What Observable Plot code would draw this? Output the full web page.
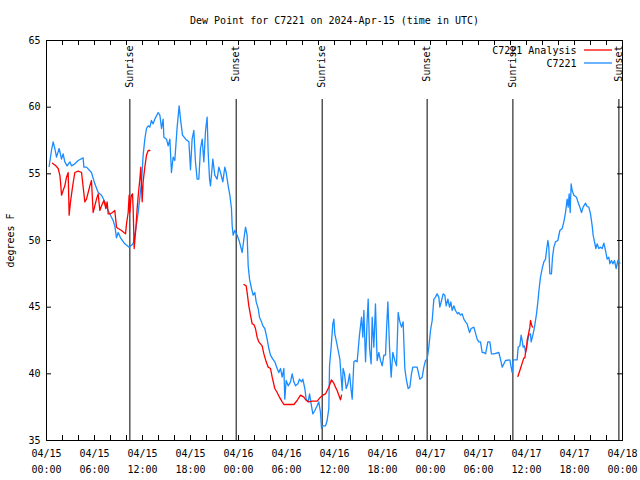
<!DOCTYPE html>
<html>
<head>
<meta charset="utf-8">
<script src="https://cdn.jsdelivr.net/npm/d3@7"></script>
<script src="https://cdn.jsdelivr.net/npm/@observablehq/plot@0.6"></script>
<style>
  html, body { margin: 0; padding: 0; background: white; }
  #chart { width: 640px; height: 480px; }
</style>
</head>
<body>
<div id="chart"></div>
<script>
// Hours after 2024-04-15 00:00 UTC
const titleText = "Dew Point for C7221 on 2024-Apr-15 (time in UTC)";
const yLabel = "degrees F";
const seriesNames = ["C7221 Analysis", "C7221"];
const seriesColors = ["#ff0000", "#1a8cff"];

const obsHours = [
0.33,0.62,0.83,1.04,1.25,1.58,1.88,2.08,2.29,2.58,2.92,3.12,3.54,3.96,4.58,4.67,5.0,5.62,6.04,6.46,6.88,7.29,7.5,7.71,8.12,8.33,8.54,8.75,8.96,9.25,9.79,10.33,10.83,11.17,11.46,11.88,12.08,12.29,12.5,12.71,12.92,13.12,13.33,13.54,13.96,14.17,14.38,14.58,14.67,15.0,15.21,15.42,15.62,15.83,16.04,16.33,16.58,16.79,17.0,17.4,17.8,18.0,18.2,
18.42,18.62,18.83,19.04,19.25,19.46,19.67,19.88,20.08,20.21,20.38,20.5,20.79,21.04,21.33,21.54,21.75,22.04,22.29,22.46,22.71,22.92,23.12,23.21,23.33,23.54,23.83,24.12,24.46,24.67,24.88,25.08,25.21,25.38,25.62,25.83,26.04,26.21,26.46,26.62,26.88,27.04,27.29,27.58,27.79,28.0,28.29,28.54,28.83,29.04,29.25,29.46,29.67,29.79,29.96,30.21,30.5,30.71,30.92,31.12,31.42,31.62,31.88,32.04,32.29,32.46,32.71,32.88,33.12,33.29,33.54,33.83,34.04,34.25,34.38,34.54,34.88,35.08,35.29,
35.38,35.58,35.79,35.92,36.04,36.25,36.46,36.67,36.83,36.96,37.08,37.25,37.46,37.67,37.88,38.04,38.21,38.42,38.62,38.83,39.12,39.38,39.54,39.67,39.88,40.08,40.21,40.38,40.58,40.71,40.92,41.12,41.33,41.54,41.75,41.96,42.17,42.38,42.5,42.67,42.88,43.08,43.29,43.54,43.75,43.96,44.17,44.38,44.58,44.79,45.0,45.21,45.42,45.62,45.79,46.33,46.67,46.96,47.17,47.38,47.58,47.79,48.0,48.21,48.42,48.62,48.83,49.04,49.17,49.38,49.58,49.79,49.96,50.17,50.38,50.54,50.71,50.92,51.12,51.38,51.54,51.75,51.96,52.17,52.38,52.58,52.88,53.08,53.42,
53.83,54.04,54.25,54.46,54.67,54.88,55.17,55.42,55.62,55.92,56.54,56.75,56.96,57.17,57.38,57.92,58.08,58.21,58.33,58.83,58.96,59.17,59.33,59.46,59.58,59.75,59.88,60.08,60.29,60.5,60.58,60.83,61.0,61.25,61.42,61.58,61.75,61.96,62.17,62.38,62.5,62.67,62.79,62.92,63.12,63.25,63.42,63.62,63.92,64.17,64.46,64.67,64.88,65.08,65.21,65.33,65.46,65.58,65.71,65.92,66.25,66.42,66.67,66.88,67.08,67.38,67.58,67.79,68.0,68.21,68.33,68.5,68.67,68.83,69.04,69.25,69.46,69.67,69.88,70.08,70.29,70.42,70.62,70.79,71.0,71.21,71.42,71.67
];
const obsValues = [
55.55,56.75,57.4,56.9,56.25,56.9,56.1,56.5,55.9,55.6,55.9,55.6,55.75,56.0,56.2,55.5,55.5,55.1,54.25,53.6,53.4,52.9,52.5,52.25,51.75,51.5,51.1,50.2,50.6,50.2,49.75,49.5,49.75,50.9,52.1,54.4,56.4,57.6,58.4,58.6,58.5,59.0,58.75,59.1,59.6,59.4,58.4,59.1,57.75,57.6,57.1,57.6,55.1,56.25,56.0,58.5,60.1,58.9,57.9,57.6,57.4,55.3,57.6,
58.25,55.9,54.6,54.6,56.9,57.6,55.9,58.25,59.25,56.6,54.6,54.1,56.1,54.9,54.6,55.5,55.1,54.4,55.5,55.1,54.1,53.4,52.4,51.1,50.4,50.75,50.4,49.9,49.1,50.1,51.0,50.4,48.1,47.1,46.4,45.9,46.1,45.4,44.9,44.25,43.9,43.6,43.4,42.6,41.9,41.4,41.1,40.9,40.4,40.1,40.4,39.75,40.4,38.1,39.5,39.1,39.4,40.0,39.4,39.1,39.25,39.6,39.4,39.6,38.9,38.1,37.9,38.5,37.6,37.0,37.25,37.6,37.9,37.1,35.9,36.1,36.1,36.5,37.4,
40.6,42.0,43.75,44.1,43.0,42.4,41.75,41.1,39.75,38.75,40.4,40.0,38.9,39.25,40.0,39.0,38.1,40.9,41.0,40.9,42.9,44.25,42.75,44.75,40.9,44.0,45.6,41.9,40.75,44.25,42.0,45.25,41.0,41.6,41.0,40.6,41.4,41.4,43.25,45.4,42.0,39.75,41.6,41.0,40.6,44.6,43.9,43.5,43.9,40.4,39.5,38.9,39.0,40.0,40.5,40.5,39.6,39.75,40.5,41.0,41.1,42.0,43.25,44.0,45.6,45.75,46.0,45.75,45.0,45.5,46.0,45.9,45.1,45.6,45.0,45.4,44.75,45.1,44.75,44.5,44.6,44.4,44.5,44.1,43.9,43.75,43.1,43.4,43.5,
42.6,42.4,42.4,41.6,41.6,41.5,42.4,42.4,41.5,41.5,41.6,41.1,40.5,40.75,41.0,41.05,40.5,40.1,41.05,41.05,42.0,42.1,42.9,42.5,42.0,42.1,41.6,42.25,42.9,43.0,42.4,43.0,43.5,44.5,45.4,46.4,47.25,47.9,48.4,48.6,49.25,50.0,49.5,47.5,47.5,48.75,49.5,49.9,50.0,50.75,50.9,51.4,52.1,53.1,52.5,53.5,52.1,54.25,53.75,53.4,53.25,52.9,52.5,52.1,52.5,52.8,52.55,52.5,52.0,51.1,50.4,49.9,49.4,49.75,49.4,49.5,49.4,49.8,49.25,48.6,48.75,48.25,48.5,48.25,48.5,47.9,48.5,48.3
];

// Analysis series; null marks a gap between segments
const anaHours = [
0.75,1.17,1.46,1.67,1.75,1.88,2.08,2.29,2.5,2.71,2.83,3.0,3.25,3.54,3.96,4.38,4.79,5.0,5.21,5.42,5.62,5.83,6.04,6.25,6.46,6.67,6.88,7.17,7.42,7.58,7.71,8.0,8.25,8.54,8.75,8.96,9.38,9.67,9.88,10.0,10.21,10.33,10.42,10.54,10.62,10.75,10.83,10.96,11.17,11.33,11.5,11.67,11.79,11.96,12.08,12.29,12.5,12.71,12.92,
18.0,
24.67,24.96,25.08,25.29,25.5,25.71,25.92,26.12,26.33,26.54,26.75,26.96,27.17,27.46,27.71,28.0,28.21,28.54,28.83,29.12,29.46,29.67,30.92,31.33,31.75,32.17,32.46,32.79,33.21,33.83,34.25,34.54,34.88,35.29,35.62,35.92,36.12,36.33,36.54,36.75,36.88,
48.0,
58.92,59.17,59.46,59.67,59.79,59.88,60.0,60.08,60.29,60.42,60.5,60.67,60.79
];
const anaValues = [
55.8,55.6,55.4,54.9,54.4,53.4,53.75,54.1,54.75,55.1,51.9,52.9,54.0,55.1,55.2,55.1,52.9,53.1,53.6,54.1,54.5,52.1,52.6,53.1,53.5,52.25,52.6,53.0,52.4,52.9,52.0,52.0,52.1,52.25,51.0,50.9,50.75,50.6,50.5,51.25,52.1,53.4,52.1,53.1,53.4,53.5,52.4,49.4,50.9,52.4,53.6,54.6,55.5,52.9,54.4,55.5,56.4,56.75,56.75,
null,
46.7,46.6,46.1,45.1,44.4,43.75,43.7,43.4,42.75,42.4,42.25,42.1,41.5,40.9,40.5,40.4,39.75,38.9,38.6,38.25,37.9,37.7,37.7,38.0,38.4,38.25,38.0,37.9,37.95,37.95,38.25,38.4,38.5,39.0,39.55,39.3,39.0,38.75,38.4,38.05,38.4,
null,
39.8,40.25,40.8,41.2,41.2,41.6,41.9,42.5,43.1,43.5,44.0,43.6,43.5
];

const sunHours = [10.42, 23.71, 34.46, 47.58, 58.3, 71.55];
const sunLabels = ["Sunrise", "Sunset", "Sunrise", "Sunset", "Sunrise", "Sunset"];

const xTickHours = [0, 6, 12, 18, 24, 30, 36, 42, 48, 54, 60, 66, 72];
const xTickLabels = ["04/15\n00:00","04/15\n06:00","04/15\n12:00","04/15\n18:00","04/16\n00:00","04/16\n06:00","04/16\n12:00","04/16\n18:00","04/17\n00:00","04/17\n06:00","04/17\n12:00","04/17\n18:00","04/18\n00:00"];
const xMinorTickHours = d3.range(0, 73, 2);
const yTicks = [35, 40, 45, 50, 55, 60, 65];

const t0 = Date.UTC(2024, 3, 15, 0, 0);
const toDate = h => new Date(t0 + h * 3600e3);

const obs = obsHours.map((h, i) => ({time: toDate(h), value: obsValues[i]}));
const ana = anaHours.map((h, i) => ({time: toDate(h), value: anaValues[i]}));
const sun = sunHours.map((h, i) => ({time: toDate(h), label: sunLabels[i]}));
const xTicks = xTickHours.map(toDate);
const xMinor = xMinorTickHours.map(toDate);

const W = 640, H = 480, ML = 46, MR = 18, MT = 40, MB = 40;
const fw = W - ML - MR, fh = H - MT - MB;

const chart = Plot.plot({
  width: W, height: H,
  marginLeft: ML, marginRight: MR, marginTop: MT, marginBottom: MB,
  style: {fontFamily: "'DejaVu Sans Mono', monospace", fontSize: "10px", background: "white", color: "black", overflow: "visible"},
  x: {type: "utc", domain: [toDate(0), toDate(72)]},
  y: {domain: [35, 65]},
  marks: [
    Plot.ruleX(sun, {x: "time", stroke: "black", strokeWidth: 1, insetTop: 59}),
    Plot.text(sun, {x: "time", text: "label", frameAnchor: "top", rotate: -90, textAnchor: "end", lineAnchor: "middle", dy: 5, fill: "black"}),
    Plot.line(obs, {x: "time", y: "value", stroke: seriesColors[1], strokeWidth: 1.3}),
    Plot.line(ana, {x: "time", y: "value", stroke: seriesColors[0], strokeWidth: 1.3}),
    Plot.frame({stroke: "black", strokeWidth: 1}),
    Plot.tickX(xMinor, {x: d => d, insetTop: fh - 5, stroke: "black"}),
    Plot.tickX(xMinor, {x: d => d, insetBottom: fh - 5, stroke: "black"}),
    Plot.tickY(yTicks, {y: d => d, insetRight: fw - 5, stroke: "black"}),
    Plot.tickY(yTicks, {y: d => d, insetLeft: fw - 5, stroke: "black"}),
    Plot.axisX(xTicks, {tickSize: 0, tickPadding: 5, tickFormat: (d, i) => xTickLabels[i], lineHeight: 1.6, label: null}),
    Plot.axisY(yTicks, {tickSize: 0, tickPadding: 6, label: yLabel, labelAnchor: "center", labelArrow: "none", labelOffset: 40}),
    Plot.text([titleText], {text: d => d, frameAnchor: "top", lineAnchor: "middle", dy: -20, fill: "black"}),
    Plot.text([seriesNames[0]], {text: d => d, frameAnchor: "top-right", textAnchor: "end", lineAnchor: "middle", dx: -46, dy: 10, fill: "black"}),
    Plot.text([seriesNames[1]], {text: d => d, frameAnchor: "top-right", textAnchor: "end", lineAnchor: "middle", dx: -46, dy: 23, fill: "black"})
  ]
});

// legend swatches
const svg = d3.select(chart);
[10, 23].forEach((dy, i) => {
  svg.append("line")
    .attr("x1", W - MR - 38).attr("x2", W - MR - 10)
    .attr("y1", MT + dy).attr("y2", MT + dy)
    .attr("stroke", seriesColors[i]).attr("stroke-width", 1.3);
});

document.getElementById("chart").appendChild(chart);
</script>
</body>
</html>
